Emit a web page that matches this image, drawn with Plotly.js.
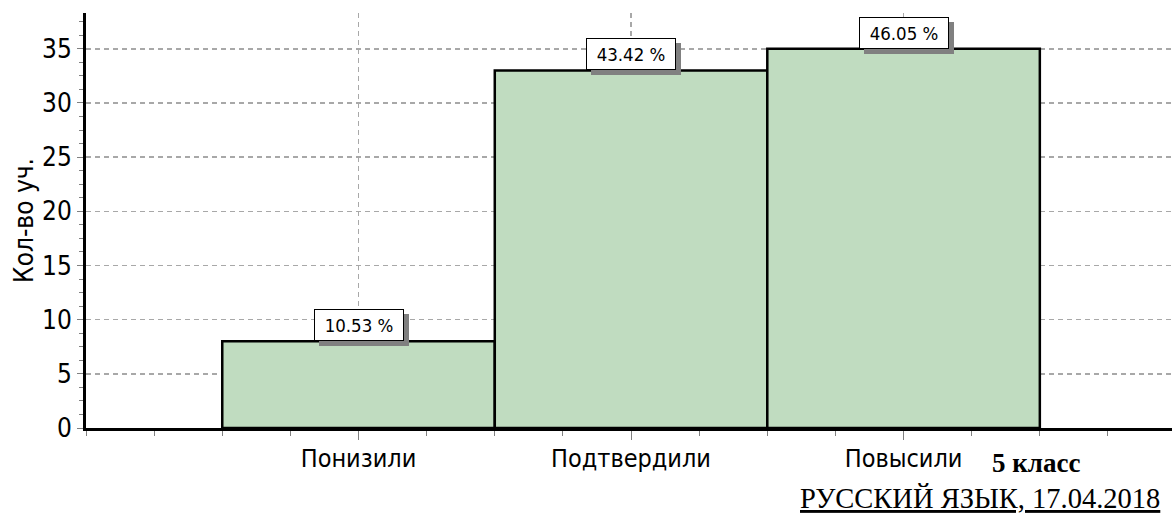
<!DOCTYPE html>
<html>
<head>
<meta charset="utf-8">
<script src="https://cdn.plot.ly/plotly-3.0.1.min.js"></script>
<style>
  html, body { margin: 0; padding: 0; background: #ffffff; }
  #chart { width: 1172px; height: 516px; }
</style>
</head>
<body>
<div id="chart"></div>
<script>
// ---- data ----
const categories = ['Понизили', 'Подтвердили', 'Повысили'];
const counts = [8, 33, 35];
const percents = [10.53, 43.42, 46.05];
const yTickVals = [0, 5, 10, 15, 20, 25, 30, 35];
const yTitle = 'Кол-во уч.';
const classLabel = '5 класс';
const subjectLabel = 'РУССКИЙ ЯЗЫК, 17.04.2018';

// numeric positions of the categories (bars touch each other)
const positions = categories.map((c, i) => i + 1);

const trace = {
  type: 'bar',
  x: positions,
  y: counts,
  width: 1,
  marker: { color: '#c0dcc0', line: { color: '#000000', width: 2.5 } },
  hoverinfo: 'none'
};

const annotations = [];
positions.forEach((p, i) => {
  const txt = percents[i].toFixed(2) + ' %';
  // shadow box (no text)
  annotations.push({
    x: p, y: counts[i], xref: 'x', yref: 'y',
    text: '&nbsp;', showarrow: false,
    xanchor: 'center', yanchor: 'bottom',
    xshift: 5, yshift: -5,
    width: 82, height: 24, borderpad: 3,
    bgcolor: '#808080', bordercolor: '#808080', borderwidth: 1,
    font: { family: 'DejaVu Sans Condensed', size: 18, color: '#808080' }
  });
  // label box
  annotations.push({
    x: p, y: counts[i], xref: 'x', yref: 'y',
    text: txt, showarrow: false,
    xanchor: 'center', yanchor: 'bottom',
    width: 82, height: 24, borderpad: 3,
    bgcolor: '#ffffff', bordercolor: '#000000', borderwidth: 1,
    font: { family: 'DejaVu Sans Condensed', size: 18.5, color: '#000000' }
  });
});

annotations.push({
  xref: 'paper', yref: 'paper', x: 0.8324, y: -0.084,
  xanchor: 'left', yanchor: 'middle', showarrow: false,
  text: '<b>' + classLabel + '</b>',
  font: { family: 'Liberation Serif', size: 27, color: '#000000' }
});
annotations.push({
  xref: 'paper', yref: 'paper', x: 0.6555, y: -0.171,
  xanchor: 'left', yanchor: 'middle', showarrow: false,
  text: '<u>' + subjectLabel + '</u>',
  font: { family: 'Liberation Serif', size: 28.5, color: '#000000' }
});

const gridStyle = { gridcolor: '#a8a8a8', griddash: '5px,4px', gridwidth: 1.5 };

const layout = {
  width: 1172, height: 516,
  margin: { l: 86, r: 0, t: 13, b: 88, pad: 0 },
  paper_bgcolor: '#ffffff', plot_bgcolor: '#ffffff',
  showlegend: false,
  bargap: 0,
  xaxis: Object.assign({
    range: [0, 3.985],
    tickmode: 'array', tickvals: positions, ticktext: categories,
    ticks: 'outside', ticklen: 9, tickwidth: 1, tickcolor: '#808080',
    ticklabelstandoff: -3,
    showgrid: true,
    showline: true, linecolor: '#000000', linewidth: 3,
    zeroline: false, fixedrange: true,
    tickfont: { family: 'DejaVu Sans Condensed', size: 25, color: '#000000' },
    minor: { tickmode: 'linear', tick0: 0, dtick: 0.25, ticks: 'outside', ticklen: 5, tickcolor: '#808080', showgrid: false }
  }, gridStyle),
  yaxis: Object.assign({
    range: [0, 38.3],
    tickmode: 'array', tickvals: yTickVals,
    ticks: 'outside', ticklen: 6, tickwidth: 1, tickcolor: '#808080',
    showgrid: true,
    showline: true, linecolor: '#000000', linewidth: 3,
    zeroline: false, fixedrange: true,
    tickfont: { family: 'Liberation Sans Narrow, DejaVu Sans Condensed', size: 26, color: '#000000' },
    minor: { tickmode: 'linear', tick0: 0, dtick: 1.25, ticks: 'outside', ticklen: 4, tickcolor: '#808080', showgrid: false },
    title: { text: yTitle, standoff: 1, font: { family: 'DejaVu Sans Condensed', size: 26, color: '#000000' } }
  }, gridStyle),
  annotations: annotations
};

Plotly.newPlot('chart', [trace], layout, { staticPlot: true, displayModeBar: false });
</script>
</body>
</html>
